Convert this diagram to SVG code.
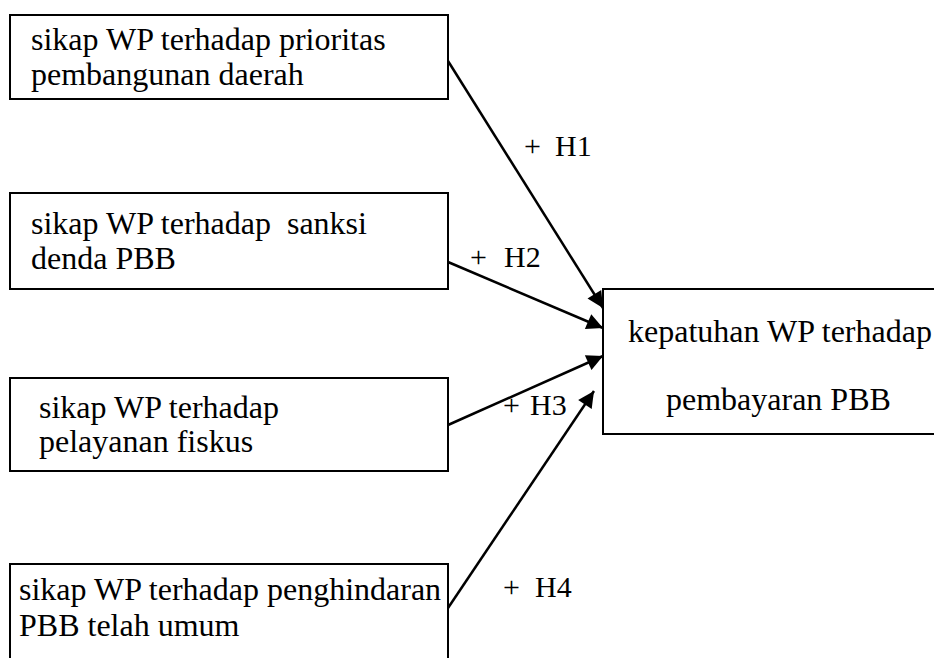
<svg xmlns="http://www.w3.org/2000/svg" width="934" height="658" viewBox="0 0 934 658">
<style>
.box{fill:#fff;stroke:#000;stroke-width:2}
.t{font-family:"Liberation Serif","Times New Roman",serif;font-size:32px;fill:#000;white-space:pre}
.lbl{font-family:"Liberation Serif","Times New Roman",serif;font-size:30px;fill:#000;white-space:pre}
.ln{stroke:#000;stroke-width:2.5;fill:none;marker-end:url(#ah)}
</style>
<defs>
<marker id="ah" viewBox="0 0 10 10" refX="10" refY="5" markerWidth="7.5" markerHeight="6.5" markerUnits="strokeWidth" orient="auto">
<path d="M0,0 L10,5 L0,10 z" fill="#000"/>
</marker>
</defs>
<rect width="934" height="658" fill="#fff"/>
<g id="n1">
<rect class="box" x="10" y="15" width="438" height="84"/>
<text class="t" x="31" y="50">sikap WP terhadap prioritas</text>
<text class="t" x="31" y="85">pembangunan daerah</text>
</g>
<g id="n2">
<rect class="box" x="10" y="193" width="438" height="96"/>
<text class="t" x="31" y="234">sikap WP terhadap  sanksi</text>
<text class="t" x="31" y="269">denda PBB</text>
</g>
<g id="n3">
<rect class="box" x="10" y="378" width="438" height="93"/>
<text class="t" x="39" y="418">sikap WP terhadap</text>
<text class="t" x="39" y="452">pelayanan fiskus</text>
</g>
<g id="n4">
<rect class="box" x="10" y="564" width="438" height="110"/>
<text class="t" x="19" y="600">sikap WP terhadap penghindaran</text>
<text class="t" x="19" y="636">PBB telah umum</text>
</g>
<g id="n5">
<rect class="box" x="603" y="289" width="345" height="145"/>
<text class="t" x="628" y="342">kepatuhan WP terhadap</text>
<text class="t" x="666" y="410">pembayaran PBB</text>
</g>
<g id="connectors">
<line class="ln" x1="448" y1="61" x2="603" y2="308"/>
<line class="ln" x1="448" y1="262" x2="603" y2="328"/>
<line class="ln" x1="448" y1="425" x2="603" y2="356"/>
<line class="ln" x1="448" y1="608" x2="594" y2="391"/>
</g>
<g id="labels">
<text class="lbl" y="156"><tspan x="524">+</tspan><tspan x="555">H1</tspan></text>
<text class="lbl" y="267"><tspan x="470">+</tspan><tspan x="504">H2</tspan></text>
<text class="lbl" y="415"><tspan x="503">+</tspan><tspan x="530">H3</tspan></text>
<text class="lbl" y="597"><tspan x="503">+</tspan><tspan x="535">H4</tspan></text>
</g>
</svg>
